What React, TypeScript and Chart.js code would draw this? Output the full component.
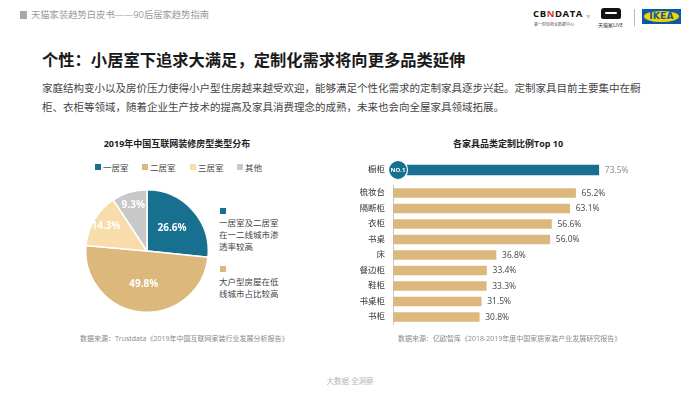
import React, { useEffect, useRef } from "react";
import { Chart, registerables } from "chart.js";

Chart.register(...registerables);

const pieLabels = ["一居室", "二居室", "三居室", "其他"];
const pieValues = [26.6, 49.8, 14.3, 9.3];

const barCategories = ["橱柜", "梳妆台", "隔断柜", "衣柜", "书桌", "床", "餐边柜", "鞋柜", "书桌柜", "书柜"];
const barValues = [73.5, 65.2, 63.1, 56.6, 56.0, 36.8, 33.4, 33.3, 31.5, 30.8];

const TEAL = "#17708f";
const TAN = "#ddb87c";
const BEIGE = "#f8dcab";
const GREY = "#c8c8c8";
const pieColors = [TEAL, TAN, BEIGE, GREY];

const FONT = '"Open Sans", "Noto Sans CJK SC", sans-serif';

const pieLabelPlugin = {
  id: "pieLabels",
  afterDatasetsDraw(chart: any) {
    const ctx = chart.ctx;
    const meta = chart.getDatasetMeta(0);
    const data = chart.data.datasets[0].data as number[];
    ctx.save();
    ctx.font = `bold 10px ${FONT}`;
    ctx.fillStyle = "#ffffff";
    ctx.textAlign = "center";
    ctx.textBaseline = "middle";
    meta.data.forEach((arc: any, i: number) => {
      const p = arc.getProps(["x", "y", "startAngle", "endAngle", "outerRadius"], true);
      const mid = (p.startAngle + p.endAngle) / 2;
      const f = data[i] < 20 ? 0.78 : 0.55;
      const r = p.outerRadius * f;
      ctx.fillText(data[i].toFixed(1) + "%", p.x + Math.cos(mid) * r, p.y + Math.sin(mid) * r);
    });
    ctx.restore();
  },
};

const valueLabelPlugin = {
  id: "valueLabels",
  afterDatasetsDraw(chart: any, _args: any, opts: any) {
    const ctx = chart.ctx;
    const meta = chart.getDatasetMeta(0);
    const data = chart.data.datasets[0].data as number[];
    ctx.save();
    ctx.font = `8.5px ${FONT}`;
    ctx.fillStyle = opts.color || "#555";
    ctx.textAlign = "left";
    ctx.textBaseline = "middle";
    meta.data.forEach((bar: any, i: number) => {
      ctx.fillText(data[i].toFixed(1) + "%", bar.x + 6, bar.y + 0.5);
    });
    if (opts.badge) {
      const bar: any = meta.data[0];
      const cx = chart.chartArea.left + 5;
      const cy = bar.y;
      ctx.beginPath();
      ctx.arc(cx, cy, 9.5, 0, Math.PI * 2);
      ctx.fillStyle = TEAL;
      ctx.fill();
      ctx.lineWidth = 1.2;
      ctx.strokeStyle = "#ffffff";
      ctx.stroke();
      ctx.fillStyle = "#ffffff";
      ctx.font = `bold 6px ${FONT}`;
      ctx.textAlign = "center";
      ctx.textBaseline = "middle";
      ctx.fillText("NO.1", cx, cy + 0.5);
    }
    ctx.restore();
  },
};

function PieChart() {
  const ref = useRef<HTMLCanvasElement>(null);
  useEffect(() => {
    const chart = new Chart(ref.current as HTMLCanvasElement, {
      type: "pie",
      data: {
        labels: pieLabels,
        datasets: [
          {
            data: pieValues,
            backgroundColor: pieColors,
            borderColor: "#ffffff",
            borderWidth: 1.5,
          },
        ],
      },
      options: {
        responsive: false,
        animation: false,
        devicePixelRatio: 1,
        layout: { padding: 0 },
        plugins: { legend: { display: false }, tooltip: { enabled: false } },
      },
      plugins: [pieLabelPlugin],
    } as any);
    return () => chart.destroy();
  }, []);
  return (
    <canvas
      ref={ref}
      width={124}
      height={124}
      style={{ position: "absolute", left: 85, top: 189, width: 124, height: 124 }}
    />
  );
}

function BarChart(props: {
  cats: string[];
  vals: number[];
  color: string;
  thickness: number;
  top: number;
  height: number;
  showBorder: boolean;
  labelColor: string;
  badge: boolean;
}) {
  const ref = useRef<HTMLCanvasElement>(null);
  useEffect(() => {
    const chart = new Chart(ref.current as HTMLCanvasElement, {
      type: "bar",
      data: {
        labels: props.cats,
        datasets: [
          {
            data: props.vals,
            backgroundColor: props.color,
            barThickness: props.thickness,
            borderWidth: 0,
          },
        ],
      },
      options: {
        indexAxis: "y",
        responsive: false,
        animation: false,
        devicePixelRatio: 1,
        layout: { padding: 0 },
        scales: {
          x: { display: false, min: 0, max: 100 },
          y: {
            grid: { display: false, drawTicks: true, tickLength: 8 },
            border: { display: props.showBorder, color: "#c9c9c9", width: 1 },
            ticks: { font: { size: 8.5, family: FONT, lineHeight: 1 }, color: "#333", padding: 0 },
            afterFit: (s: any) => {
              s.width = 33;
            },
          },
        },
        plugins: {
          legend: { display: false },
          tooltip: { enabled: false },
          valueLabels: { color: props.labelColor, badge: props.badge },
        },
      },
      plugins: [valueLabelPlugin],
    } as any);
    return () => chart.destroy();
  }, []);
  return (
    <canvas
      ref={ref}
      width={313}
      height={props.height}
      style={{ position: "absolute", left: 360, top: props.top, width: 313, height: props.height }}
    />
  );
}

function Txt(props: {
  x: number;
  y: number;
  size: number;
  color?: string;
  bold?: boolean;
  center?: boolean;
  children: any;
  ls?: number;
}) {
  const h = Math.round(props.size * 1.5);
  return (
    <div
      style={{
        position: "absolute",
        left: props.x,
        top: props.y - h / 2,
        height: h,
        lineHeight: `${h}px`,
        fontSize: props.size,
        color: props.color || "#333",
        fontWeight: props.bold ? 700 : 400,
        whiteSpace: "nowrap",
        transform: props.center ? "translateX(-50%)" : undefined,
        letterSpacing: props.ls ? `${props.ls}px` : undefined,
      }}
    >
      {props.children}
    </div>
  );
}

export default function App() {
  const legendX = [95, 142, 190, 237];
  return (
    <div
      style={{
        position: "absolute",
        left: 0,
        top: 0,
        width: 700,
        height: 394,
        overflow: "hidden",
        background: "#ffffff",
        fontFamily: FONT,
      }}
    >
      {/* header */}
      <div style={{ position: "absolute", left: 20, top: 11, width: 7, height: 8, background: "#a8a8a8" }} />
      <Txt x={31} y={15} size={9.3} color="#9a9a9a">
        天猫家装趋势白皮书——90后居家趋势指南
      </Txt>

      {/* logos */}
      <Txt x={533} y={14} size={9.5} color="#111" bold ls={0.6}>
        CB<span style={{ color: "#d43a2a" }}>N</span>DATA
      </Txt>
      <div
        style={{
          position: "absolute",
          left: 534,
          top: 22,
          fontSize: 4,
          lineHeight: "5px",
          color: "#555",
          whiteSpace: "nowrap",
        }}
      >
        第一财经商业数据中心
      </div>
      <Txt x={586} y={16} size={8} color="#999">
        ×
      </Txt>
      <div
        style={{
          position: "absolute",
          left: 601,
          top: 8,
          width: 20,
          height: 11,
          background: "#111",
          borderRadius: "3px 3px 2px 2px",
        }}
      >
        <div style={{ position: "absolute", left: 4, top: 4, width: 12, height: 2, background: "#fff", borderRadius: 1 }} />
      </div>
      <div
        style={{
          position: "absolute",
          left: 598,
          top: 22,
          fontSize: 5,
          lineHeight: "6px",
          color: "#333",
          whiteSpace: "nowrap",
        }}
      >
        天猫家LIVE
      </div>
      <div style={{ position: "absolute", left: 634, top: 9, width: 1, height: 17, background: "#bbb" }} />
      <div
        style={{
          position: "absolute",
          left: 642,
          top: 9,
          width: 39,
          height: 15,
          background: "#0b5aa8",
        }}
      >
        <div
          style={{
            position: "absolute",
            left: 2,
            top: 2,
            width: 35,
            height: 11,
            background: "#f5d300",
            borderRadius: "50%",
          }}
        />
        <div
          style={{
            position: "absolute",
            left: 0,
            top: 0,
            width: 39,
            height: 15,
            lineHeight: "15px",
            textAlign: "center",
            fontSize: 9,
            fontWeight: 800,
            color: "#0b5aa8",
            fontFamily: '"DejaVu Sans", sans-serif',
            letterSpacing: "0.3px",
          }}
        >
          IKEA
        </div>
      </div>

      {/* title */}
      <Txt x={42} y={60} size={16.3} color="#1a1a1a" bold>
        个性：小居室下追求大满足，定制化需求将向更多品类延伸
      </Txt>
      <Txt x={42} y={88} size={10.5} color="#444">
        家庭结构变小以及房价压力使得小户型住房越来越受欢迎，能够满足个性化需求的定制家具逐步兴起。定制家具目前主要集中在橱
      </Txt>
      <Txt x={42} y={107} size={10.5} color="#444">
        柜、衣柜等领域，随着企业生产技术的提高及家具消费理念的成熟，未来也会向全屋家具领域拓展。
      </Txt>

      {/* left chart */}
      <Txt x={177} y={144} size={9} color="#222" bold center>
        2019年中国互联网装修房型类型分布
      </Txt>
      {pieLabels.map((l, i) => (
        <React.Fragment key={l}>
          <div
            style={{
              position: "absolute",
              left: legendX[i],
              top: 164,
              width: 6,
              height: 6,
              background: pieColors[i],
            }}
          />
          <Txt x={legendX[i] + 8} y={167} size={8.5} color="#444">
            {l}
          </Txt>
        </React.Fragment>
      ))}
      <PieChart />
      <div style={{ position: "absolute", left: 220, top: 208, width: 6, height: 6, background: TEAL }} />
      <Txt x={219} y={222} size={8.5} color="#444">一居室及二居室</Txt>
      <Txt x={219} y={234} size={8.5} color="#444">在一二线城市渗</Txt>
      <Txt x={219} y={246} size={8.5} color="#444">透率较高</Txt>
      <div style={{ position: "absolute", left: 220, top: 266, width: 6, height: 6, background: TAN }} />
      <Txt x={219} y={281} size={8.5} color="#444">大户型房屋在低</Txt>
      <Txt x={219} y={293} size={8.5} color="#444">线城市占比较高</Txt>
      <Txt x={80} y={338} size={7} color="#888">
        数据来源：Trustdata《2019年中国互联网家装行业发展分析报告》
      </Txt>

      {/* right chart */}
      <Txt x={508} y={144} size={9} color="#222" bold center>
        各家具品类定制比例Top 10
      </Txt>
      <BarChart
        cats={barCategories.slice(0, 1)}
        vals={barValues.slice(0, 1)}
        color={TEAL}
        thickness={10}
        top={158}
        height={24}
        showBorder={false}
        labelColor="#8a8a8a"
        badge={true}
      />
      <BarChart
        cats={barCategories.slice(1)}
        vals={barValues.slice(1)}
        color={TAN}
        thickness={9}
        top={181}
        height={148}
        showBorder={true}
        labelColor="#444"
        badge={false}
      />
      <Txt x={398} y={338} size={7} color="#888">
        数据来源：亿欧智库《2018-2019年度中国家居家装产业发展研究报告》
      </Txt>

      {/* footer */}
      <Txt x={350} y={381} size={7.5} color="#b5b5b5" center>
        大数据·全洞察
      </Txt>
    </div>
  );
}
